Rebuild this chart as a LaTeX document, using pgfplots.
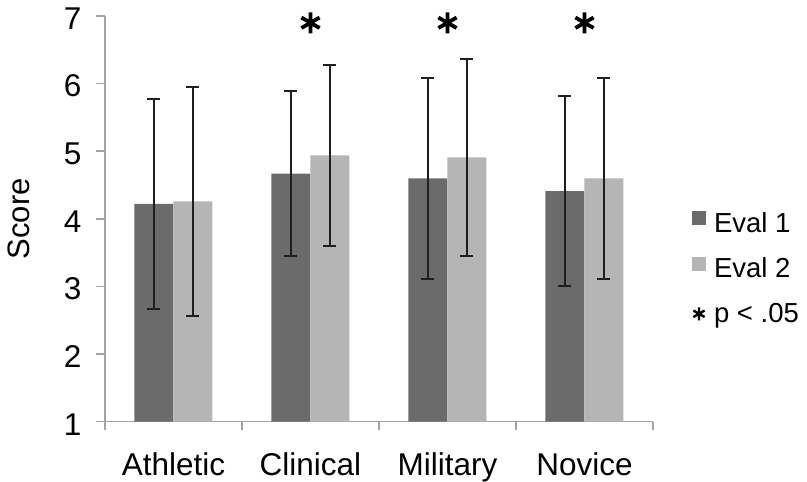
\documentclass[border=0pt]{standalone}
\usepackage{fontspec}
\setmainfont{Liberation Sans}
\usepackage{pgfplots}
\pgfplotsset{compat=1.18}
\usepackage{pgfplotstable}
\definecolor{evalone}{HTML}{6B6B6B}
\definecolor{evaltwo}{HTML}{B5B5B5}
\definecolor{axgray}{HTML}{A3A3A3}

\pgfplotstableread{
x y err
0 4.22 1.55
1 4.67 1.22
2 4.60 1.49
3 4.41 1.41
}\tabA
\pgfplotstableread{
x y err
0 4.26 1.69
1 4.94 1.335
2 4.91 1.46
3 4.60 1.485
}\tabB
\pgfplotstableread{
x y
1 6.90
2 6.90
3 6.90
}\tabStar

\begin{document}
\begin{tikzpicture}
\useasboundingbox (-105pt,-60.3pt) rectangle (702pt,421.7pt);
\begin{axis}[
  at={(0,0)}, anchor=south west,
  scale only axis,
  width=548pt, height=405.7pt,
  xmin=-0.5, xmax=3.5,
  ymin=1, ymax=7,
  clip=false,
  axis lines=left,
  axis line style={-, draw=axgray, line width=1.5pt},
  ybar=0pt, bar width=39pt,
  ytick={1,2,3,4,5,6,7},
  xtick={0,1,2,3},
  xticklabels={Athletic,Clinical,Military,Novice},
  minor xtick={-0.5,0.5,1.5,2.5,3.5},
  tick align=outside,
  major tick length=9pt,
  minor tick length=8pt,
  major x tick style={draw=none},
  every tick/.style={draw=axgray, line width=1.5pt},
  minor x tick style={draw=axgray, line width=1.5pt},
  /pgf/number format/assume math mode=true,
  tick label style={font=\fontsize{31.5}{37}\selectfont, text=black},
  xticklabel style={yshift=-18pt},
  yticklabel style={xshift=-11pt, yshift=-2.5pt},
  ylabel={Score},
  ylabel style={font=\fontsize{31}{37}\selectfont, at={(axis description cs:-0.157,0.5)}, anchor=center},
  legend style={draw=none, fill=none, inner sep=0pt, outer sep=0pt,
    at={(axis description cs:1.0712,0.378)}, anchor=west,
    font=\fontsize{27.5}{31}\selectfont, row sep=20pt,
    /tikz/every odd column/.append style={column sep=6pt}},
  legend cell align=left,
  error bars/y dir=both, error bars/y explicit,
  error bars/error bar style={line width=2pt, draw=black!88},
  error bars/error mark options={rotate=90, mark size=6.5pt, line width=2pt, draw=black!88},
]
\addplot[fill=evalone, draw=none,
  legend image code/.code={\fill[evalone] (0pt,-2pt) rectangle (14pt,12pt);}]
  table[x=x, y=y, y error=err] {\tabA};
\addlegendentry{Eval 1}
\addplot[fill=evaltwo, draw=none,
  legend image code/.code={\fill[evaltwo] (0pt,-2pt) rectangle (14pt,12pt);}]
  table[x=x, y=y, y error=err] {\tabB};
\addlegendentry{Eval 2}
\addlegendimage{legend image code/.code={
  \draw[line width=2.4pt, black] (7pt,0pt) +(90:6.5pt) -- +(270:6.5pt)
    (7pt,0pt) +(30:6.5pt) -- +(210:6.5pt)
    (7pt,0pt) +(150:6.5pt) -- +(330:6.5pt);}}
\addlegendentry{p < .05}
\addplot[only marks, mark=asterisk, mark size=10.5pt, line width=3.8pt, black,
  forget plot, error bars/y dir=none, bar shift=0pt]
  table[x=x, y=y] {\tabStar};
\end{axis}
\end{tikzpicture}
\end{document}
